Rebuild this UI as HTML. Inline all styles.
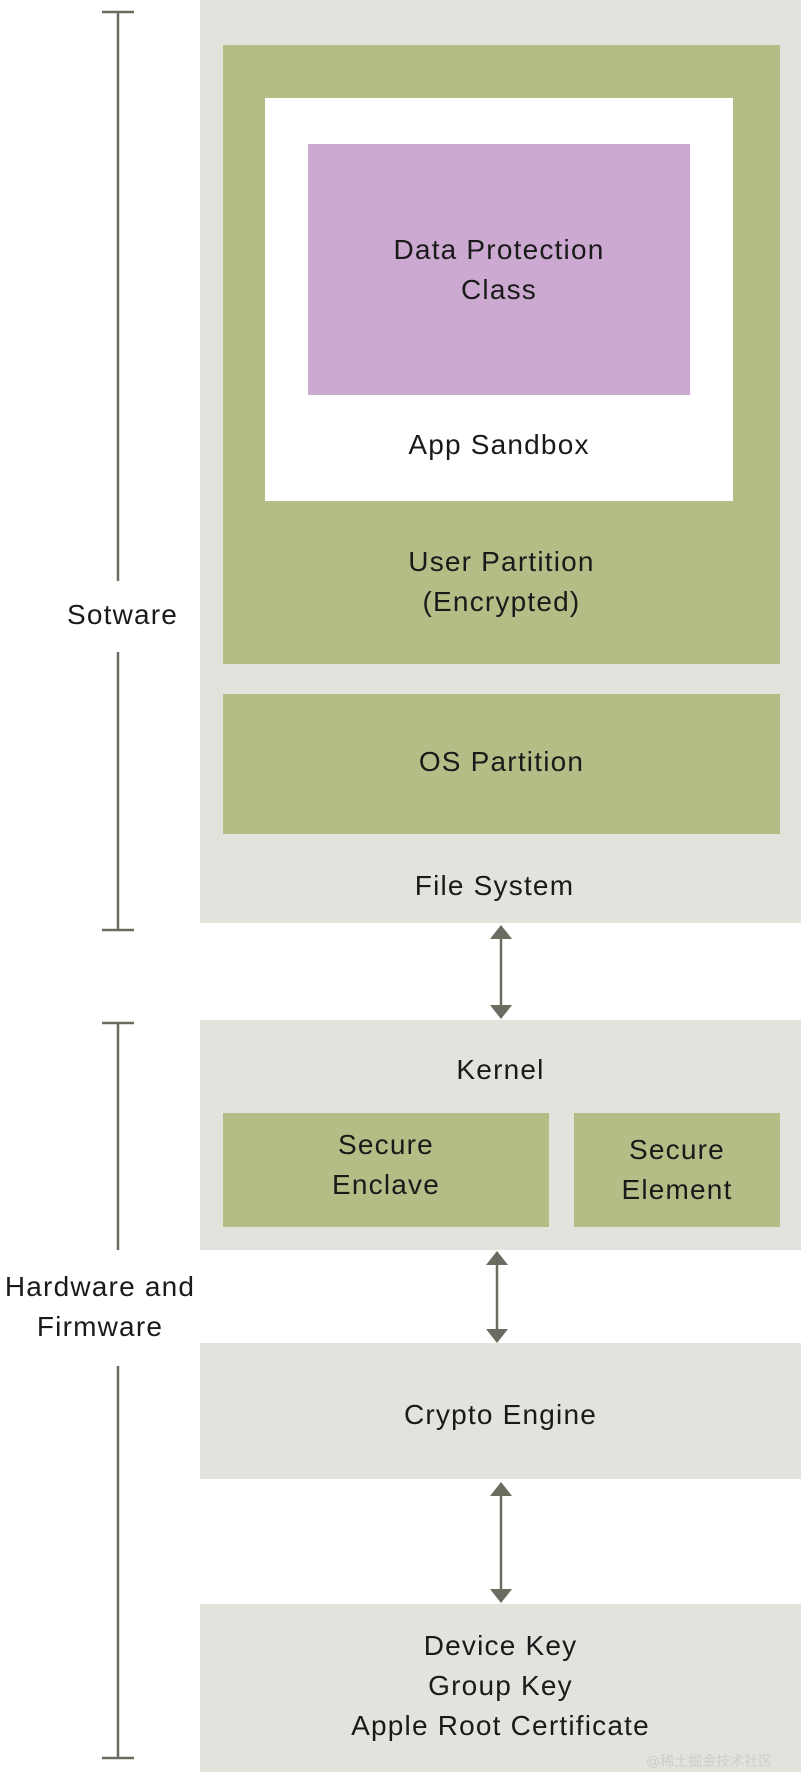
<!DOCTYPE html>
<html><head><style>
body{margin:0;width:801px;height:1772px;background:#fff;position:relative;overflow:hidden;font-family:"Liberation Sans",sans-serif;color:#1a1a1a}
.b{position:absolute}
.t{position:absolute;left:0;right:0;text-align:center;font-size:28px;letter-spacing:1.2px;line-height:40px}
.g{background:#e3e3de}.gr{background:#b3bd86}
</style></head><body>
<div class="b g" style="left:200px;top:0;width:601px;height:923px"></div>
<div class="b gr" style="left:223px;top:45px;width:557px;height:619px"></div>
<div class="b" style="left:265px;top:98px;width:468px;height:403px;background:#fff"></div>
<div class="b" style="left:308px;top:144px;width:382px;height:251px;background:#cca9d0"></div>
<div class="t" style="left:308px;width:382px;right:auto;top:230px">Data Protection<br>Class</div>
<div class="t" style="left:265px;width:468px;right:auto;top:425px">App Sandbox</div>
<div class="t" style="left:223px;width:557px;right:auto;top:542px">User Partition<br>(Encrypted)</div>
<div class="b gr" style="left:223px;top:694px;width:557px;height:140px"></div>
<div class="t" style="left:223px;width:557px;right:auto;top:742px">OS Partition</div>
<div class="t" style="width:601px;right:auto;top:866px;left:194px">File System</div>

<div class="b g" style="left:200px;top:1020px;width:601px;height:230px"></div>
<div class="t" style="left:200px;width:601px;right:auto;top:1050px">Kernel</div>
<div class="b gr" style="left:223px;top:1113px;width:326px;height:114px"></div>
<div class="t" style="left:223px;width:326px;right:auto;top:1125px">Secure<br>Enclave</div>
<div class="b gr" style="left:574px;top:1113px;width:206px;height:114px"></div>
<div class="t" style="left:574px;width:206px;right:auto;top:1130px">Secure<br>Element</div>

<div class="b g" style="left:200px;top:1343px;width:601px;height:136px"></div>
<div class="t" style="left:200px;width:601px;right:auto;top:1395px">Crypto Engine</div>
<div class="b g" style="left:200px;top:1604px;width:601px;height:168px"></div>
<div class="t" style="left:200px;width:601px;right:auto;top:1626px">Device Key<br>Group Key<br>Apple Root Certificate</div>

<svg class="b" style="left:0;top:0" width="801" height="1772">
<g stroke="#6b6b60" stroke-width="2.5" fill="#6b6b60">
<line x1="118" y1="12" x2="118" y2="581"/><line x1="118" y1="652" x2="118" y2="930"/>
<line x1="102" y1="12" x2="134" y2="12"/><line x1="102" y1="930" x2="134" y2="930"/>
<line x1="118" y1="1023" x2="118" y2="1250"/><line x1="118" y1="1366" x2="118" y2="1758"/>
<line x1="102" y1="1023" x2="134" y2="1023"/><line x1="102" y1="1758" x2="134" y2="1758"/>
<line x1="501" y1="935" x2="501" y2="1009"/>
<line x1="497" y1="1261" x2="497" y2="1333"/>
<line x1="501" y1="1492" x2="501" y2="1593"/>
<g stroke="none">
<polygon points="501,925 490,939 512,939"/><polygon points="501,1019 490,1005 512,1005"/>
<polygon points="497,1251 486,1265 508,1265"/><polygon points="497,1343 486,1329 508,1329"/>
<polygon points="501,1482 490,1496 512,1496"/><polygon points="501,1603 490,1589 512,1589"/>
</g></g></svg>
<div class="t" style="left:40px;width:165px;right:auto;top:595px">Sotware</div>
<div class="t" style="left:0;width:200px;right:auto;top:1267px">Hardware and<br>Firmware</div>
<div class="b" style="left:646px;top:1751px;font-size:14px;color:#ccc;font-family:'Liberation Sans','Noto Sans CJK SC',sans-serif">@稀土掘金技术社区</div>
</body></html>
